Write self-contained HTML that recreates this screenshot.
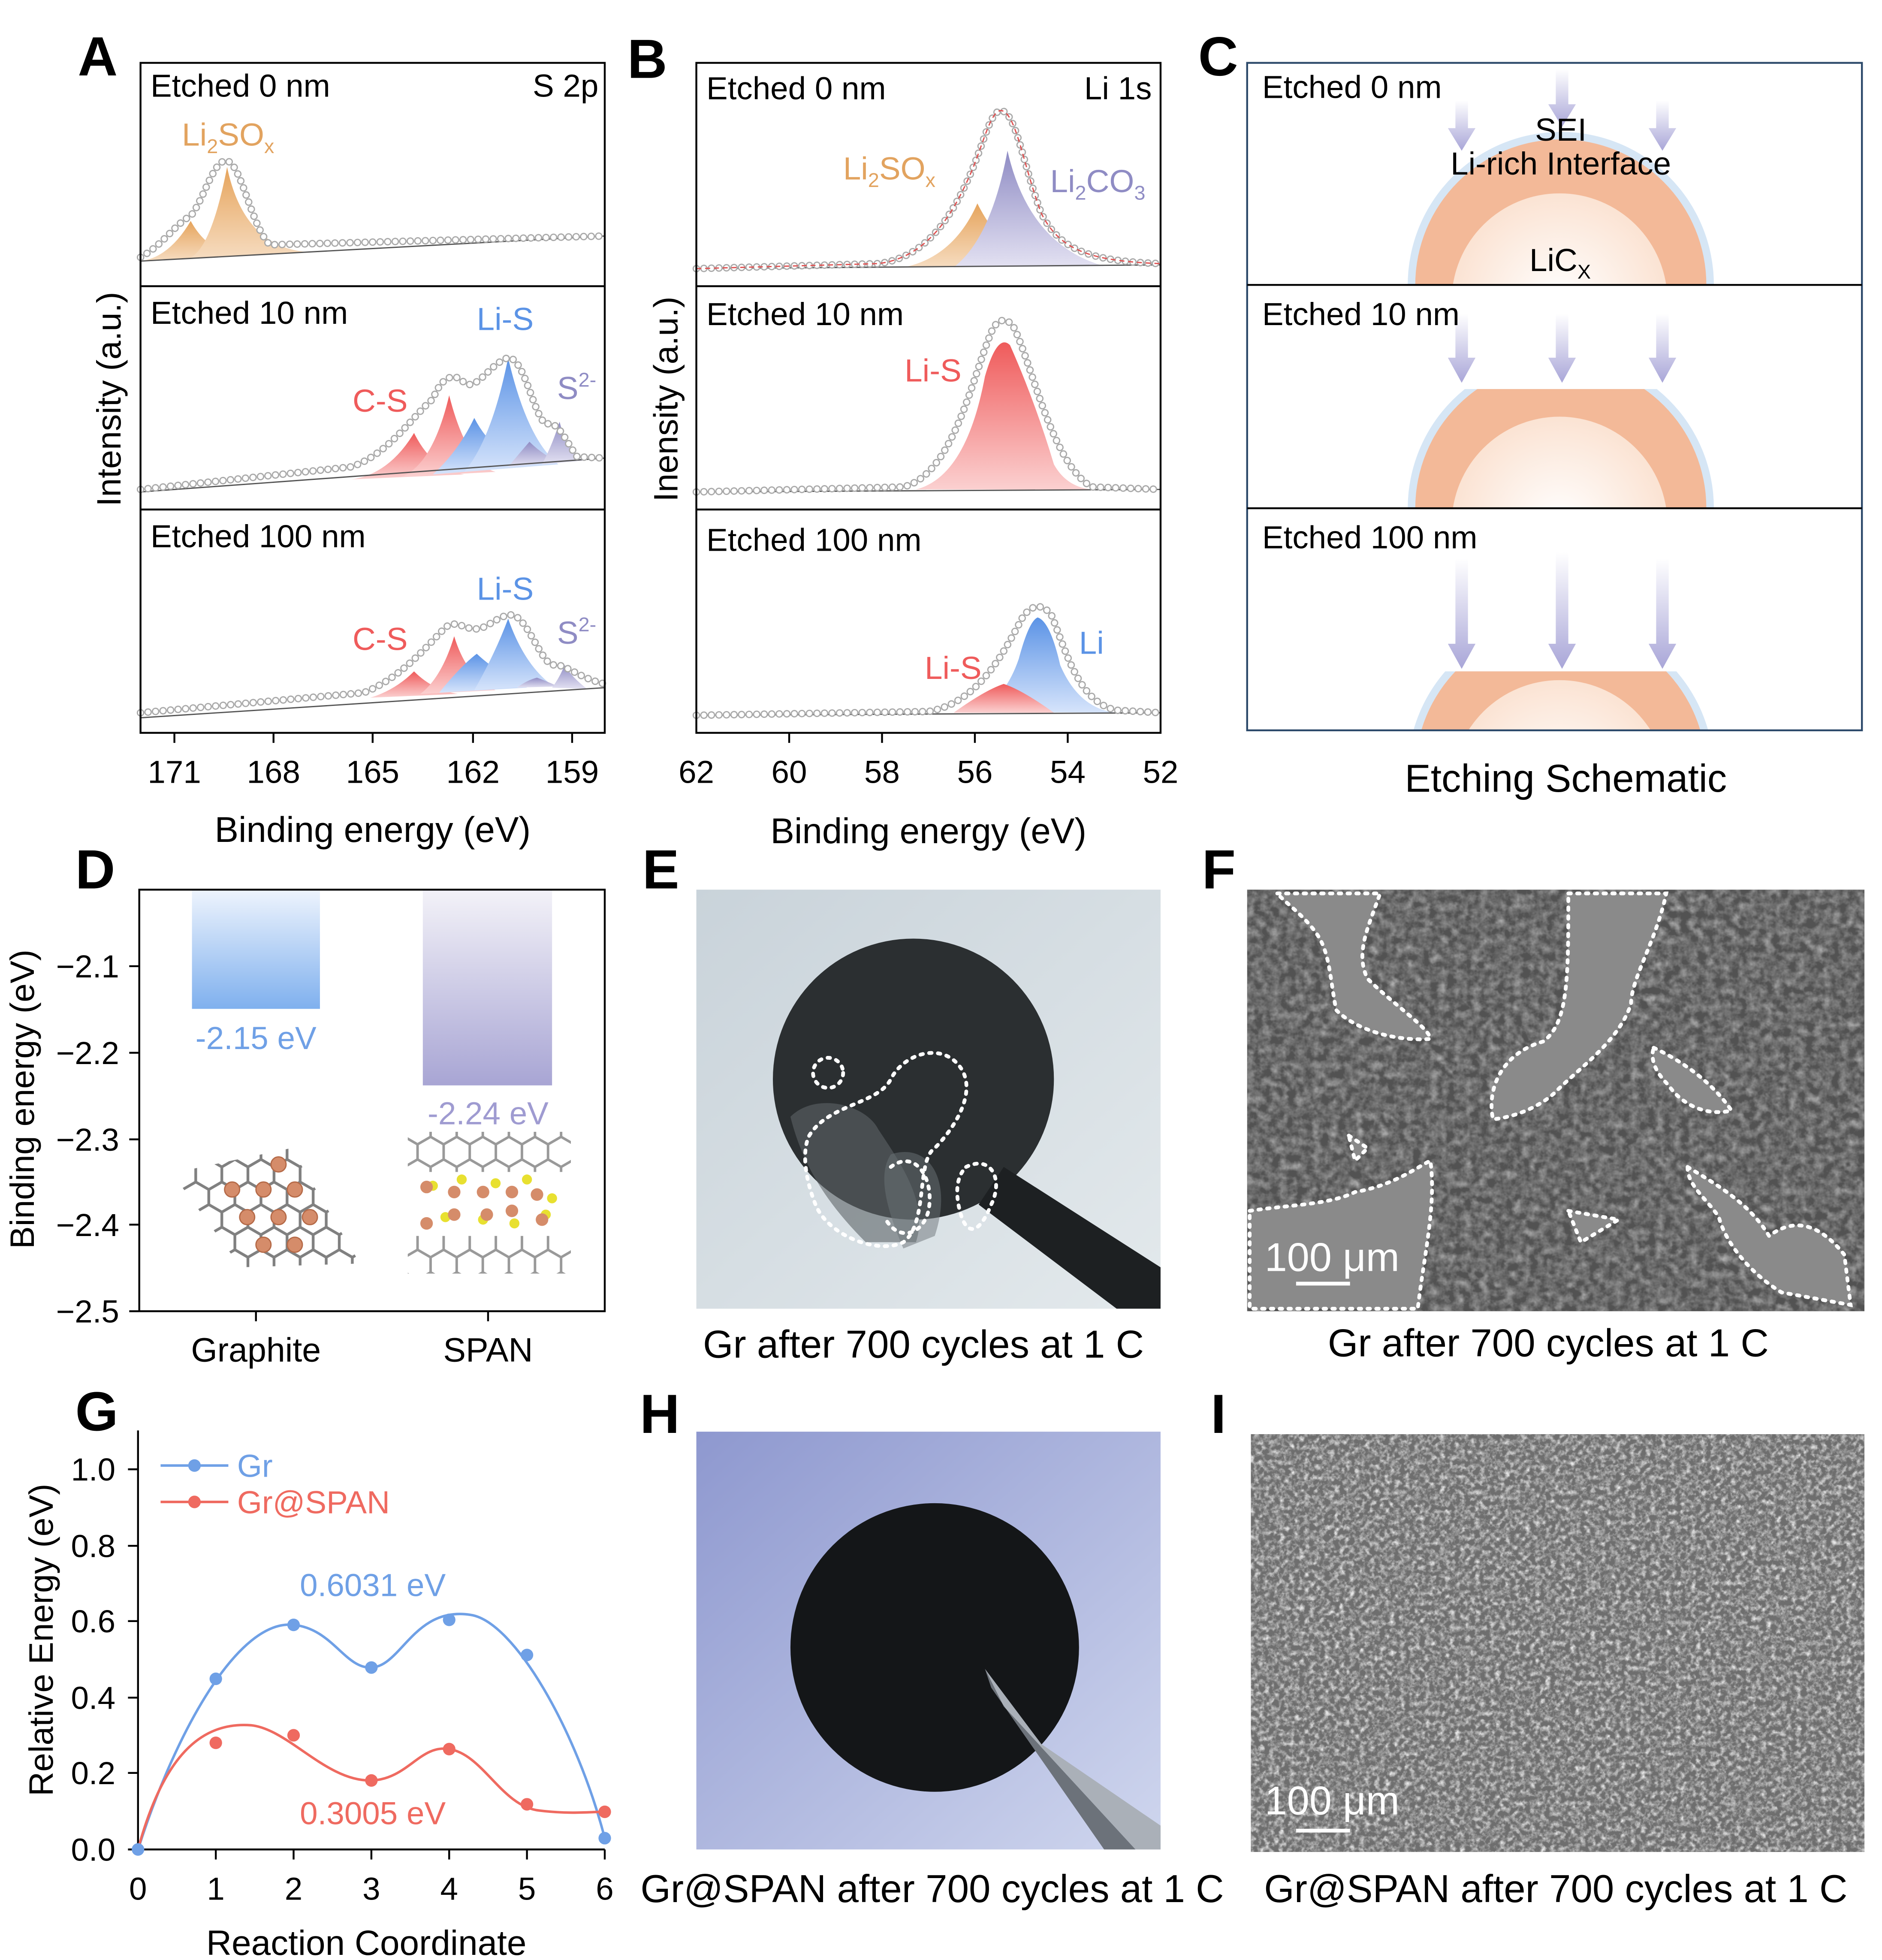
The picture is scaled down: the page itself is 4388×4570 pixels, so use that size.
<!DOCTYPE html>
<html><head><meta charset="utf-8"><style>
html,body{margin:0;padding:0;background:#fff}
svg{display:block}
text{font-family:"Liberation Sans",Arial,sans-serif}
</style></head><body>
<svg width="4388" height="4570" viewBox="0 0 1500 1562" xmlns="http://www.w3.org/2000/svg">
<defs>
<linearGradient id="gO" x1="0" y1="0" x2="0" y2="1"><stop offset="0" stop-color="#e6a45c"/><stop offset="1" stop-color="#f6dcc0"/></linearGradient>
<linearGradient id="gR" x1="0" y1="0" x2="0" y2="1"><stop offset="0" stop-color="#ef5b5b"/><stop offset="1" stop-color="#fbd0d0"/></linearGradient>
<linearGradient id="gB" x1="0" y1="0" x2="0" y2="1"><stop offset="0" stop-color="#5b93e6"/><stop offset="1" stop-color="#d6e4fb"/></linearGradient>
<linearGradient id="gP" x1="0" y1="0" x2="0" y2="1"><stop offset="0" stop-color="#8f8cc4"/><stop offset="1" stop-color="#e3e1f2"/></linearGradient>
<linearGradient id="barB" x1="0" y1="0" x2="0" y2="1"><stop offset="0" stop-color="#eef4fd"/><stop offset="1" stop-color="#7fb0ee"/></linearGradient>
<linearGradient id="barP" x1="0" y1="0" x2="0" y2="1"><stop offset="0" stop-color="#f3f2f8"/><stop offset="1" stop-color="#a8a5d4"/></linearGradient>
<linearGradient id="arr" x1="0" y1="0" x2="0" y2="1"><stop offset="0" stop-color="#fff"/><stop offset="1" stop-color="#a9a6d8"/></linearGradient>
<radialGradient id="core" cx="0.5" cy="0.5" r="0.5"><stop offset="0" stop-color="#fff"/><stop offset="1" stop-color="#fbe3d3"/></radialGradient>
<linearGradient id="bgE" x1="0" y1="0" x2="1" y2="1"><stop offset="0" stop-color="#c9d3da"/><stop offset="1" stop-color="#e3e9ec"/></linearGradient>
<linearGradient id="bgH" x1="0" y1="0" x2="1" y2="1"><stop offset="0" stop-color="#8e98cf"/><stop offset="1" stop-color="#cfd6ee"/></linearGradient>
<pattern id="hex" width="20.8" height="36" patternUnits="userSpaceOnUse"><path d="M10.4,0 L10.4,6 L0,12 L0,24 L10.4,30 L10.4,36 M10.4,6 L20.8,12 L20.8,24 L10.4,30" fill="none" stroke="#808080" stroke-width="2.2"/></pattern>
<pattern id="hex2" width="20.8" height="36" patternUnits="userSpaceOnUse"><path d="M10.4,0 L10.4,6 L0,12 L0,24 L10.4,30 L10.4,36 M10.4,6 L20.8,12 L20.8,24 L10.4,30" fill="none" stroke="#999" stroke-width="2"/></pattern>
<filter id="sem1" x="0" y="0" width="1" height="1"><feTurbulence type="fractalNoise" baseFrequency="0.15" numOctaves="3" seed="3"/><feColorMatrix type="matrix" values="0 0 0 0 0.45  0 0 0 0 0.45  0 0 0 0 0.45  0.8 0.8 0.8 0 -0.95"/></filter>
<filter id="sem2" x="0" y="0" width="1" height="1"><feTurbulence type="fractalNoise" baseFrequency="0.25" numOctaves="3" seed="7"/><feColorMatrix type="matrix" values="0 0 0 0 0.8  0 0 0 0 0.8  0 0 0 0 0.8  1.2 1.2 1.2 0 -1.6"/></filter>
<clipPath id="c1"><rect x="994" y="50" width="490" height="177"/></clipPath>
<clipPath id="c2"><rect x="994" y="310" width="490" height="95"/></clipPath>
<clipPath id="c3"><rect x="994" y="535" width="490" height="47"/></clipPath>
</defs>

<g font-size="25.5" fill="#000">
<g font-size="44" font-weight="bold">
<text x="62" y="60">A</text><text x="500" y="62">B</text><text x="955" y="60">C</text>
<text x="60" y="708">D</text><text x="512" y="708">E</text><text x="958" y="708">F</text>
<text x="60" y="1140">G</text><text x="510" y="1142">H</text><text x="965" y="1142">I</text>
</g>

<!-- ===== Panel A ===== -->
<g>
<path d="M112,208 Q135,205 152,176 Q165,200 190,204 Z" fill="url(#gO)"/>
<path d="M150,206 Q168,200 181,133 Q195,200 250,201 Z" fill="url(#gO)"/>
<line x1="112" y1="208" x2="482" y2="188" stroke="#555" stroke-width="1"/>
<path d="M112,205 C130,195 140,178 152,172 C162,160 170,128 180,128 C192,128 200,180 215,195 L482,188" fill="none" stroke="#aaa" stroke-width="6" stroke-dasharray="0.01 6" stroke-linecap="round"/>
<path d="M112,205 C130,195 140,178 152,172 C162,160 170,128 180,128 C192,128 200,180 215,195 L482,188" fill="none" stroke="#fff" stroke-width="4" stroke-dasharray="0.01 6" stroke-linecap="round"/>

<path d="M280,382 Q310,378 330,345 Q345,375 370,378 Z" fill="url(#gR)"/>
<path d="M320,380 Q345,370 358,315 Q372,370 395,376 Z" fill="url(#gR)"/>
<path d="M345,378 Q365,360 378,333 Q392,360 420,372 Z" fill="url(#gB)"/>
<path d="M370,376 Q392,350 405,285 Q420,350 445,370 Z" fill="url(#gB)"/>
<path d="M405,372 Q415,360 422,352 Q432,362 445,368 Z" fill="url(#gP)"/>
<path d="M432,370 Q440,355 446,336 Q452,360 465,367 Z" fill="url(#gP)"/>
<line x1="112" y1="392" x2="482" y2="365" stroke="#555"/>
<path d="M112,390 L280,372 C310,362 330,330 345,318 C352,300 362,296 370,305 C380,312 390,290 405,285 C418,285 425,330 435,338 C445,335 450,350 460,364 L482,365" fill="none" stroke="#aaa" stroke-width="6" stroke-dasharray="0.01 6" stroke-linecap="round"/>
<path d="M112,390 L280,372 C310,362 330,330 345,318 C352,300 362,296 370,305 C380,312 390,290 405,285 C418,285 425,330 435,338 C445,335 450,350 460,364 L482,365" fill="none" stroke="#fff" stroke-width="4" stroke-dasharray="0.01 6" stroke-linecap="round"/>

<path d="M295,556 Q315,550 330,535 Q345,550 365,553 Z" fill="url(#gR)"/>
<path d="M335,553 Q352,540 362,507 Q372,540 395,550 Z" fill="url(#gR)"/>
<path d="M350,552 Q368,530 380,521 Q395,535 420,548 Z" fill="url(#gB)"/>
<path d="M378,550 Q395,520 405,493 Q418,530 440,546 Z" fill="url(#gB)"/>
<path d="M412,548 Q420,542 428,540 Q436,543 445,547 Z" fill="url(#gP)"/>
<path d="M440,548 Q446,540 450,530 Q456,540 468,549 Z" fill="url(#gP)"/>
<line x1="112" y1="572" x2="482" y2="548" stroke="#555"/>
<path d="M112,568 L290,552 C320,540 340,515 355,500 C365,492 372,505 385,500 C395,495 400,490 408,490 C420,492 430,525 440,530 C450,528 460,540 482,545" fill="none" stroke="#aaa" stroke-width="6" stroke-dasharray="0.01 6" stroke-linecap="round"/>
<path d="M112,568 L290,552 C320,540 340,515 355,500 C365,492 372,505 385,500 C395,495 400,490 408,490 C420,492 430,525 440,530 C450,528 460,540 482,545" fill="none" stroke="#fff" stroke-width="4" stroke-dasharray="0.01 6" stroke-linecap="round"/>

<rect x="112" y="50" width="370" height="534" fill="none" stroke="#000" stroke-width="1.5"/>
<line x1="112" y1="228" x2="482" y2="228" stroke="#000" stroke-width="1.5"/>
<line x1="112" y1="406" x2="482" y2="406" stroke="#000" stroke-width="1.5"/>
<text x="120" y="77">Etched 0 nm</text><text x="477" y="77" text-anchor="end">S 2p</text>
<text x="120" y="258">Etched 10 nm</text>
<text x="120" y="436">Etched 100 nm</text>
<text x="145" y="116" fill="#e2a35f">Li<tspan font-size="16" dy="6">2</tspan><tspan dy="-6">SO</tspan><tspan font-size="16" dy="6">x</tspan></text>
<text x="281" y="328" fill="#ef5b5b">C-S</text><text x="380" y="263" fill="#5b93e6">Li-S</text>
<text x="444" y="318" fill="#8f8cc4">S<tspan font-size="16" dy="-10">2-</tspan></text>
<text x="281" y="518" fill="#ef5b5b">C-S</text><text x="380" y="478" fill="#5b93e6">Li-S</text>
<text x="444" y="513" fill="#8f8cc4">S<tspan font-size="16" dy="-10">2-</tspan></text>
<g stroke="#000" stroke-width="1.5"><line x1="139" y1="584" x2="139" y2="592"/><line x1="218" y1="584" x2="218" y2="592"/><line x1="297" y1="584" x2="297" y2="592"/><line x1="377" y1="584" x2="377" y2="592"/><line x1="456" y1="584" x2="456" y2="592"/></g>
<g text-anchor="middle"><text x="139" y="624">171</text><text x="218" y="624">168</text><text x="297" y="624">165</text><text x="377" y="624">162</text><text x="456" y="624">159</text>
<text x="297" y="671" font-size="28.5">Binding energy (eV)</text></g>
<text transform="translate(96,318) rotate(-90)" text-anchor="middle" font-size="27">Intensity (a.u.)</text>
</g>

<!-- ===== Panel B ===== -->
<g>
<path d="M720,213 Q760,205 779,162 Q800,205 840,212 Z" fill="url(#gO)"/>
<path d="M760,213 Q790,190 803,120 Q820,195 880,212 Z" fill="url(#gP)"/>
<line x1="555" y1="214" x2="925" y2="211" stroke="#555"/>
<path d="M555,214 L700,210 C740,205 760,170 775,135 C785,110 790,88 798,88 C810,90 815,130 830,170 C845,200 870,208 925,210" fill="none" stroke="#aaa" stroke-width="6" stroke-dasharray="0.01 6" stroke-linecap="round"/>
<path d="M555,214 L700,210 C740,205 760,170 775,135 C785,110 790,88 798,88 C810,90 815,130 830,170 C845,200 870,208 925,210" fill="none" stroke="#fff" stroke-width="4" stroke-dasharray="0.01 6" stroke-linecap="round"/>
<path d="M555,214 L700,210 C740,205 760,170 775,135 C785,110 790,88 798,88 C810,90 815,130 830,170 C845,200 870,208 925,210" fill="none" stroke="#e05050" stroke-width="1" stroke-dasharray="4 3"/>

<path d="M730,390 Q770,380 785,300 Q795,265 805,275 Q825,320 840,370 Q850,388 870,390 Z" fill="url(#gR)"/>
<line x1="555" y1="392" x2="925" y2="390" stroke="#555"/>
<path d="M555,392 L720,388 C760,378 775,300 790,265 C795,252 805,252 810,265 C825,300 840,370 870,388 L925,390" fill="none" stroke="#aaa" stroke-width="6" stroke-dasharray="0.01 6" stroke-linecap="round"/>
<path d="M555,392 L720,388 C760,378 775,300 790,265 C795,252 805,252 810,265 C825,300 840,370 870,388 L925,390" fill="none" stroke="#fff" stroke-width="4" stroke-dasharray="0.01 6" stroke-linecap="round"/>

<path d="M775,567 Q800,560 812,525 Q820,495 827,492 Q837,495 845,530 Q860,565 890,568 Z" fill="url(#gB)"/>
<path d="M760,568 Q785,550 800,545 Q815,550 840,568 Z" fill="url(#gR)"/>
<line x1="555" y1="570" x2="925" y2="568" stroke="#555"/>
<path d="M555,570 L740,567 C780,560 800,520 815,492 C822,482 830,480 838,490 C850,520 860,560 890,566 L925,568" fill="none" stroke="#aaa" stroke-width="6" stroke-dasharray="0.01 6" stroke-linecap="round"/>
<path d="M555,570 L740,567 C780,560 800,520 815,492 C822,482 830,480 838,490 C850,520 860,560 890,566 L925,568" fill="none" stroke="#fff" stroke-width="4" stroke-dasharray="0.01 6" stroke-linecap="round"/>

<rect x="555" y="50" width="370" height="534" fill="none" stroke="#000" stroke-width="1.5"/>
<line x1="555" y1="228" x2="925" y2="228" stroke="#000" stroke-width="1.5"/>
<line x1="555" y1="406" x2="925" y2="406" stroke="#000" stroke-width="1.5"/>
<text x="563" y="79">Etched 0 nm</text><text x="918" y="79" text-anchor="end">Li 1s</text>
<text x="563" y="259">Etched 10 nm</text><text x="563" y="439">Etched 100 nm</text>
<text x="672" y="143" fill="#e2a35f">Li<tspan font-size="16" dy="6">2</tspan><tspan dy="-6">SO</tspan><tspan font-size="16" dy="6">x</tspan></text>
<text x="837" y="153" fill="#8f8cc4">Li<tspan font-size="16" dy="6">2</tspan><tspan dy="-6">CO</tspan><tspan font-size="16" dy="6">3</tspan></text>
<text x="721" y="304" fill="#ef5b5b">Li-S</text>
<text x="737" y="541" fill="#ef5b5b">Li-S</text><text x="860" y="521" fill="#5b93e6">Li</text>
<g stroke="#000" stroke-width="1.5"><line x1="629" y1="584" x2="629" y2="592"/><line x1="703" y1="584" x2="703" y2="592"/><line x1="777" y1="584" x2="777" y2="592"/><line x1="851" y1="584" x2="851" y2="592"/></g>
<g text-anchor="middle"><text x="555" y="624">62</text><text x="629" y="624">60</text><text x="703" y="624">58</text><text x="777" y="624">56</text><text x="851" y="624">54</text><text x="925" y="624">52</text>
<text x="740" y="672" font-size="28.5">Binding energy (eV)</text></g>
<text transform="translate(540,318) rotate(-90)" text-anchor="middle" font-size="27">Inensity (a.u.)</text>
</g>

<!-- ===== Panel C ===== -->
<g>
<g clip-path="url(#c1)">
<circle cx="1244" cy="227" r="122" fill="#d6e6f5"/><circle cx="1244" cy="227" r="116" fill="#f3b998"/><circle cx="1243" cy="240" r="86" fill="url(#core)"/>
</g>
<g clip-path="url(#c2)">
<circle cx="1244" cy="405" r="122" fill="#d6e6f5"/><circle cx="1244" cy="405" r="116" fill="#f3b998"/><circle cx="1243" cy="418" r="86" fill="url(#core)"/>
</g>
<g clip-path="url(#c3)">
<circle cx="1244" cy="615" r="122" fill="#d6e6f5"/><circle cx="1244" cy="615" r="116" fill="#f3b998"/><circle cx="1243" cy="628" r="86" fill="url(#core)"/>
</g>
<g fill="url(#arr)">
<path d="M1160,80 h10 v22 h6 l-11,18 l-11,-18 h6 z"/><path d="M1240,55 h10 v28 h6 l-11,18 l-11,-18 h6 z"/><path d="M1320,80 h10 v22 h6 l-11,18 l-11,-18 h6 z"/>
<path d="M1160,250 h10 v35 h6 l-11,20 l-11,-20 h6 z"/><path d="M1240,250 h10 v35 h6 l-11,20 l-11,-20 h6 z"/><path d="M1320,250 h10 v35 h6 l-11,20 l-11,-20 h6 z"/>
<path d="M1160,445 h10 v68 h6 l-11,20 l-11,-20 h6 z"/><path d="M1240,440 h10 v73 h6 l-11,20 l-11,-20 h6 z"/><path d="M1320,445 h10 v68 h6 l-11,20 l-11,-20 h6 z"/>
</g>
<rect x="994" y="50" width="490" height="532" fill="none" stroke="#2d4a6b" stroke-width="1.5"/>
<line x1="994" y1="227" x2="1484" y2="227" stroke="#000" stroke-width="1.5"/>
<line x1="994" y1="405" x2="1484" y2="405" stroke="#000" stroke-width="1.5"/>
<text x="1006" y="78">Etched 0 nm</text><text x="1006" y="259">Etched 10 nm</text><text x="1006" y="437">Etched 100 nm</text>
<text x="1244" y="112" text-anchor="middle">SEI</text><text x="1244" y="139" text-anchor="middle">Li-rich Interface</text>
<text x="1219" y="216">LiC<tspan font-size="16" dy="6">X</tspan></text>
<text x="1248" y="631" text-anchor="middle" font-size="31">Etching Schematic</text>
</g>

<!-- ===== Panel D ===== -->
<g>
<rect x="153" y="709" width="102" height="95" fill="url(#barB)"/>
<rect x="337" y="709" width="103" height="156" fill="url(#barP)"/>
<text x="204" y="836" text-anchor="middle" fill="#6fa0e6">-2.15 eV</text>
<text x="389" y="896" text-anchor="middle" fill="#9f9bd1">-2.24 eV</text>
<polygon points="137,935 232,915 287,1007 192,1010" fill="url(#hex)"/>
<g fill="#d58c6a" stroke="#b56a48"><circle cx="185" cy="948" r="6"/><circle cx="210" cy="948" r="6"/><circle cx="235" cy="948" r="6"/><circle cx="197" cy="970" r="6"/><circle cx="222" cy="970" r="6"/><circle cx="247" cy="970" r="6"/><circle cx="210" cy="992" r="6"/><circle cx="235" cy="992" r="6"/><circle cx="222" cy="928" r="6"/></g>
<rect x="325" y="902" width="130" height="32" fill="url(#hex2)"/>
<rect x="325" y="985" width="130" height="30" fill="url(#hex2)"/>
<g fill="#e8e030"><circle cx="345" cy="945" r="4"/><circle cx="368" cy="940" r="4"/><circle cx="395" cy="943" r="4"/><circle cx="420" cy="940" r="4"/><circle cx="440" cy="955" r="4"/><circle cx="355" cy="970" r="4"/><circle cx="385" cy="972" r="4"/><circle cx="410" cy="975" r="4"/><circle cx="435" cy="968" r="4"/></g>
<g fill="#d58c6a"><circle cx="340" cy="946" r="5"/><circle cx="362" cy="950" r="5"/><circle cx="385" cy="950" r="5"/><circle cx="408" cy="950" r="5"/><circle cx="428" cy="952" r="5"/><circle cx="340" cy="975" r="5"/><circle cx="362" cy="968" r="5"/><circle cx="388" cy="968" r="5"/><circle cx="408" cy="965" r="5"/><circle cx="432" cy="972" r="5"/></g>
<rect x="111" y="709" width="371" height="336" fill="none" stroke="#000" stroke-width="1.5"/>
<g stroke="#000" stroke-width="1.5"><line x1="103" y1="770" x2="111" y2="770"/><line x1="103" y1="839" x2="111" y2="839"/><line x1="103" y1="908" x2="111" y2="908"/><line x1="103" y1="976" x2="111" y2="976"/><line x1="103" y1="1045" x2="111" y2="1045"/><line x1="204" y1="1045" x2="204" y2="1053"/><line x1="389" y1="1045" x2="389" y2="1053"/></g>
<g text-anchor="end"><text x="95" y="779">−2.1</text><text x="95" y="848">−2.2</text><text x="95" y="917">−2.3</text><text x="95" y="985">−2.4</text><text x="95" y="1054">−2.5</text></g>
<text x="204" y="1085" text-anchor="middle" font-size="27">Graphite</text><text x="389" y="1085" text-anchor="middle" font-size="27">SPAN</text>
<text transform="translate(27,876) rotate(-90)" text-anchor="middle" font-size="27">Binding energy (eV)</text>
</g>

<!-- ===== Panel E ===== -->
<g>
<rect x="555" y="709" width="370" height="334" fill="url(#bgE)"/>
<circle cx="728" cy="860" r="112" fill="#2b2f31"/>
<path d="M630,890 C650,870 690,880 700,900 C720,930 740,960 730,990 L690,990 C660,960 640,930 630,890Z" fill="#5d6468" opacity="0.6"/>
<path d="M710,920 C740,910 760,940 745,985 L720,995 C705,960 700,935 710,920Z" fill="#6b7377" opacity="0.5"/>
<path d="M800,930 L925,1010 L925,1043 L890,1043 L780,960 Z" fill="#1d2022"/>
<g fill="none" stroke="#fff" stroke-width="3" stroke-dasharray="2 5" stroke-linecap="round">
<circle cx="660" cy="855" r="12"/>
<path d="M645,905 C660,880 700,880 710,860 C720,840 750,830 765,850 C780,870 760,900 745,915 C730,925 740,975 720,990 C700,1000 660,985 650,960 C640,935 640,915 645,905Z"/>
<path d="M770,930 C790,920 800,940 790,960 C780,985 770,985 765,965 C760,945 765,935 770,930Z"/>
<path d="M710,930 C730,915 745,940 740,965 C735,985 715,990 705,970"/>
</g>
<text x="736" y="1082" text-anchor="middle" font-size="31">Gr after 700 cycles at 1 C</text>
</g>

<!-- ===== Panel F ===== -->
<g>
<rect x="994" y="709" width="492" height="336" fill="#525252"/>
<rect x="994" y="709" width="492" height="336" filter="url(#sem1)"/>
<g fill="#8a8a8a" stroke="#fff" stroke-width="3" stroke-dasharray="2 5" stroke-linecap="round">
<path d="M1018,712 L1100,712 C1090,740 1080,760 1090,780 C1110,800 1140,820 1140,828 C1110,830 1080,820 1065,805 C1060,780 1060,760 1050,745 C1040,730 1025,720 1018,712Z"/>
<path d="M1250,712 L1328,712 C1320,750 1300,780 1300,800 C1290,830 1260,850 1240,870 C1230,880 1210,890 1190,892 C1185,870 1195,840 1230,830 C1250,815 1250,780 1250,712Z"/>
<path d="M1318,835 C1350,850 1370,870 1380,885 C1360,890 1340,880 1330,865 C1320,855 1315,845 1318,835Z"/>
<path d="M1075,905 L1090,915 L1080,925 Z"/>
<path d="M996,965 C1030,960 1060,960 1080,950 C1110,945 1130,930 1140,925 C1145,960 1135,1000 1130,1043 L996,1043Z"/>
<path d="M1250,965 L1290,972 L1260,990 Z"/>
<path d="M1345,930 C1370,945 1395,960 1410,985 C1430,970 1450,975 1470,1000 L1475,1040 L1420,1030 C1395,1015 1375,990 1370,970 C1360,955 1345,945 1345,930Z"/>
</g>
<line x1="1033" y1="1023" x2="1076" y2="1023" stroke="#fff" stroke-width="3"/>
<text x="1008" y="1013" fill="#fff" font-size="32">100 μm</text>
<text x="1234" y="1081" text-anchor="middle" font-size="31">Gr after 700 cycles at 1 C</text>
</g>

<!-- ===== Panel G ===== -->
<g>
<line x1="110" y1="1140" x2="110" y2="1474" stroke="#000" stroke-width="1.5"/>
<line x1="110" y1="1474" x2="482" y2="1474" stroke="#000" stroke-width="1.5"/>
<g stroke="#000" stroke-width="1.5">
<line x1="102" y1="1474" x2="110" y2="1474"/><line x1="102" y1="1413" x2="110" y2="1413"/><line x1="102" y1="1353" x2="110" y2="1353"/><line x1="102" y1="1292" x2="110" y2="1292"/><line x1="102" y1="1232" x2="110" y2="1232"/><line x1="102" y1="1171" x2="110" y2="1171"/>
<line x1="172" y1="1474" x2="172" y2="1482"/><line x1="234" y1="1474" x2="234" y2="1482"/><line x1="296" y1="1474" x2="296" y2="1482"/><line x1="358" y1="1474" x2="358" y2="1482"/><line x1="420" y1="1474" x2="420" y2="1482"/><line x1="482" y1="1474" x2="482" y2="1482"/></g>
<g text-anchor="end"><text x="92" y="1483">0.0</text><text x="92" y="1422">0.2</text><text x="92" y="1362">0.4</text><text x="92" y="1301">0.6</text><text x="92" y="1241">0.8</text><text x="92" y="1180">1.0</text></g>
<g text-anchor="middle"><text x="110" y="1514">0</text><text x="172" y="1514">1</text><text x="234" y="1514">2</text><text x="296" y="1514">3</text><text x="358" y="1514">4</text><text x="420" y="1514">5</text><text x="482" y="1514">6</text>
<text x="292" y="1558" font-size="28">Reaction Coordinate</text></g>
<text transform="translate(42,1307) rotate(-90)" text-anchor="middle" font-size="27">Relative Energy (eV)</text>
<path d="M110,1474 C140,1380 190,1290 234,1295 C265,1298 275,1330 296,1329 C320,1328 330,1280 375,1287 C410,1292 460,1380 482,1465" fill="none" stroke="#6fa0e6" stroke-width="2"/>
<path d="M110,1474 C130,1400 160,1372 200,1375 C230,1378 260,1420 296,1419 C325,1418 335,1390 358,1394 C385,1398 400,1440 430,1443 C455,1446 470,1444 482,1444" fill="none" stroke="#ef6a60" stroke-width="2"/>
<g fill="#6fa0e6"><circle cx="110" cy="1474" r="5"/><circle cx="172" cy="1338" r="5"/><circle cx="234" cy="1295" r="5"/><circle cx="296" cy="1329" r="5"/><circle cx="358" cy="1291" r="5"/><circle cx="420" cy="1319" r="5"/><circle cx="482" cy="1465" r="5"/></g>
<g fill="#ef6a60"><circle cx="172" cy="1389" r="5"/><circle cx="234" cy="1383" r="5"/><circle cx="296" cy="1419" r="5"/><circle cx="358" cy="1394" r="5"/><circle cx="420" cy="1438" r="5"/><circle cx="482" cy="1444" r="5"/></g>
<line x1="128" y1="1168" x2="182" y2="1168" stroke="#6fa0e6" stroke-width="2"/><circle cx="155" cy="1168" r="5" fill="#6fa0e6"/>
<line x1="128" y1="1197" x2="182" y2="1197" stroke="#ef6a60" stroke-width="2"/><circle cx="155" cy="1197" r="5" fill="#ef6a60"/>
<text x="189" y="1177" fill="#6fa0e6">Gr</text><text x="189" y="1206" fill="#ef6a60">Gr@SPAN</text>
<text x="239" y="1272" fill="#6fa0e6">0.6031 eV</text><text x="239" y="1454" fill="#ef6a60">0.3005 eV</text>
</g>

<!-- ===== Panel H ===== -->
<g>
<rect x="555" y="1141" width="370" height="333" fill="url(#bgH)"/>
<circle cx="745" cy="1313" r="115" fill="#141618"/>
<path d="M785,1330 L830,1390 L925,1455 L925,1474 L905,1474 L800,1360 Z" fill="#aab0b8"/>
<path d="M785,1330 L800,1360 L905,1474 L880,1474 L790,1345 Z" fill="#6c727a"/>
<text x="743" y="1516" text-anchor="middle" font-size="31">Gr@SPAN after 700 cycles at 1 C</text>
</g>

<!-- ===== Panel I ===== -->
<g>
<rect x="997" y="1143" width="489" height="333" fill="#6e6e6e"/>
<rect x="997" y="1143" width="489" height="333" filter="url(#sem2)"/>
<line x1="1033" y1="1459" x2="1076" y2="1459" stroke="#fff" stroke-width="3"/>
<text x="1008" y="1446" fill="#fff" font-size="32">100 μm</text>
<text x="1240" y="1516" text-anchor="middle" font-size="31">Gr@SPAN after 700 cycles at 1 C</text>
</g>
</g>
</svg>
</body></html>
